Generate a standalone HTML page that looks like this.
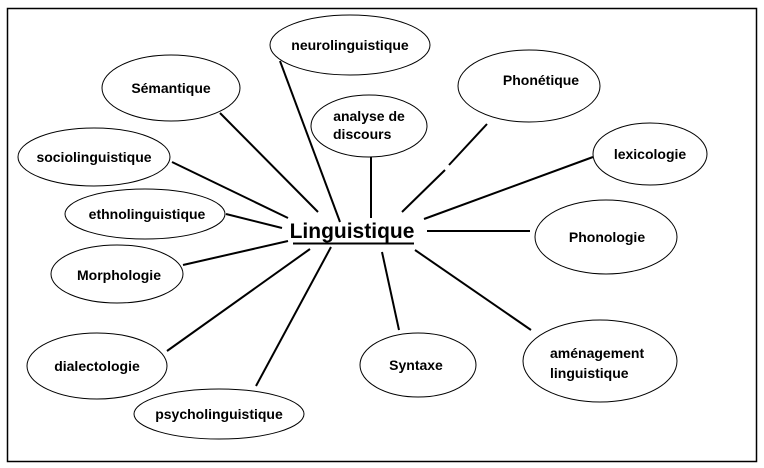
<!DOCTYPE html>
<html><head><meta charset="utf-8"><style>
html,body{margin:0;padding:0;background:#fff;width:764px;height:468px;overflow:hidden}
text{font-family:"Liberation Sans",Arial,sans-serif;font-weight:bold;font-size:14px;fill:#000}
</style></head><body>
<svg width="764" height="468" viewBox="0 0 764 468" xmlns="http://www.w3.org/2000/svg">
<rect x="7.5" y="8.5" width="749" height="453" fill="#fff" stroke="#000" stroke-width="1.5"/>
<g fill="#fff" stroke="#000" stroke-width="1">
<ellipse cx="350" cy="45" rx="80" ry="30"/>
<ellipse cx="171" cy="88" rx="69" ry="33"/>
<ellipse cx="369" cy="126" rx="58" ry="31"/>
<ellipse cx="94" cy="157" rx="76" ry="29"/>
<ellipse cx="145" cy="214" rx="80" ry="25"/>
<ellipse cx="117" cy="274" rx="66" ry="29"/>
<ellipse cx="97" cy="366" rx="70" ry="33"/>
<ellipse cx="219" cy="414" rx="85" ry="25"/>
<ellipse cx="418" cy="365" rx="58" ry="32"/>
<ellipse cx="600" cy="361" rx="77" ry="41"/>
<ellipse cx="606" cy="237" rx="71" ry="37"/>
<ellipse cx="650" cy="154" rx="57" ry="31"/>
<ellipse cx="529" cy="86" rx="71" ry="36"/>
</g>
<g stroke="#000" stroke-width="2" fill="none">
<line x1="280" y1="61" x2="340" y2="222"/>
<line x1="220" y1="113" x2="318" y2="212"/>
<line x1="371" y1="157" x2="371" y2="218"/>
<line x1="172" y1="162" x2="288" y2="218"/>
<line x1="226" y1="214" x2="282" y2="228"/>
<line x1="183" y1="265" x2="288" y2="241"/>
<line x1="167" y1="351" x2="310" y2="249"/>
<line x1="256" y1="386" x2="331" y2="247"/>
<line x1="382" y1="252" x2="399" y2="330"/>
<line x1="415" y1="250" x2="531" y2="330"/>
<line x1="427" y1="231" x2="530" y2="231"/>
<line x1="424" y1="219" x2="593" y2="157"/>
<line x1="487" y1="124" x2="449" y2="165"/>
<line x1="445" y1="170" x2="402" y2="212"/>
</g>
<text x="350" y="50" text-anchor="middle">neurolinguistique</text>
<text x="171" y="93" text-anchor="middle">Sémantique</text>
<text x="369" y="121" text-anchor="middle">analyse de</text>
<text x="333" y="139">discours</text>
<text x="94" y="162" text-anchor="middle">sociolinguistique</text>
<text x="147" y="219" text-anchor="middle">ethnolinguistique</text>
<text x="119" y="280" text-anchor="middle">Morphologie</text>
<text x="97" y="371" text-anchor="middle">dialectologie</text>
<text x="219" y="419" text-anchor="middle">psycholinguistique</text>
<text x="416" y="370" text-anchor="middle">Syntaxe</text>
<text x="550" y="358">aménagement</text>
<text x="550" y="378">linguistique</text>
<text x="607" y="242" text-anchor="middle">Phonologie</text>
<text x="650" y="159" text-anchor="middle">lexicologie</text>
<text x="541" y="85" text-anchor="middle">Phonétique</text>
<text x="352" y="238" text-anchor="middle" style="font-size:21px">Linguistique</text>
<line x1="293" y1="243.5" x2="414" y2="243.5" stroke="#000" stroke-width="2"/>
</svg>
</body></html>
